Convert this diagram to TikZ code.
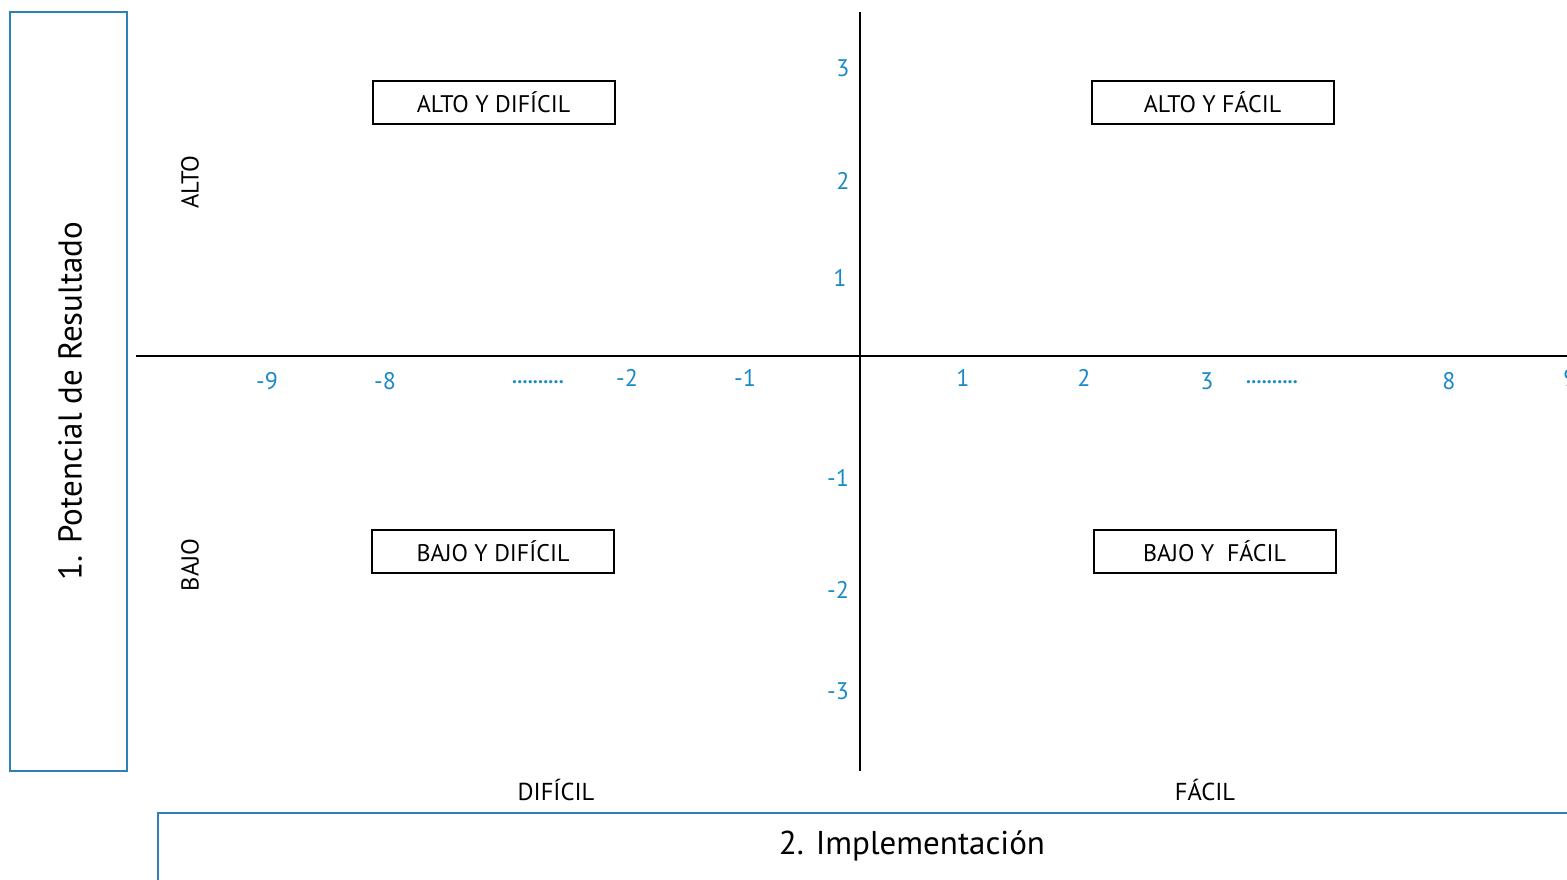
\documentclass[tikz,border=0pt]{standalone}
\usepackage{fontspec}
\setmainfont{PT Sans}
\definecolor{tickblue}{HTML}{1A8AC6}
\definecolor{frameblue}{HTML}{2F7FB8}
\begin{document}
\begin{tikzpicture}[x=1pt,y=-1pt,
  quad/.style={draw=black,line width=2pt,minimum width=242pt,minimum height=43pt,inner sep=0pt,font=\fontsize{24}{26}\selectfont},
  tick/.style={text=tickblue,font=\fontsize{24}{26}\selectfont,inner sep=0pt},
  dots/.style={text=tickblue,font=\bfseries\fontsize{20}{24}\selectfont,inner sep=0pt},
  side/.style={font=\fontsize{24.5}{26}\selectfont,inner sep=0pt},
  title/.style={inner sep=0pt,font=\fontsize{33}{36}\selectfont},
  axis/.style={line width=2pt,black},
  frame/.style={draw=frameblue,line width=1.2pt}]
\useasboundingbox (0,0) rectangle (1567,879);
% side frames
\draw[frame] (10,12) rectangle (127,771);
\draw[frame] (1570,813) -- (158,813) -- (158,882);
% axes
\coordinate (xl) at (136,356);
\coordinate (xr) at (1570,356);
\coordinate (yt) at (860,12);
\coordinate (yb) at (860,771);
\draw[axis] (xl) -- (xr);
\draw[axis] (yt) -- (yb);
% quadrant boxes
\node[quad] (ad) at (493.5,102) {ALTO Y DIFÍCIL};
\node[quad] (af) at (1212.5,102) {ALTO Y FÁCIL};
\node[quad] (bd) at (493,551) {BAJO Y DIFÍCIL};
\node[quad] (bf) at (1214.5,551) {BAJO Y \ FÁCIL};
% vertical tick labels
\node[tick] (y3) at (843,68) {3};
\node[tick] (y2) at (843,181) {2};
\node[tick] (y1) at (840,278) {1};
\node[tick] (ym1) at (838,478) {-1};
\node[tick] (ym2) at (838,590) {-2};
\node[tick] (ym3) at (838,691) {-3};
% horizontal tick labels
\node[tick] (xm9) at (267,381) {-9};
\node[tick] (xm8) at (385,381) {-8};
\node[dots] (xdl) at (538,382) {..........};
\node[tick] (xm2) at (627,378) {-2};
\node[tick] (xm1) at (745,378) {-1};
\node[tick] (x1) at (963,378) {1};
\node[tick] (x2) at (1084,378) {2};
\node[tick] (x3) at (1207,381) {3};
\node[dots] (xdr) at (1272,382) {..........};
\node[tick] (x8) at (1449,381) {8};
\node[tick] (x9) at (1570,378) {9};
% level labels
\node[side,rotate=90] (alto) at (190,182) {ALTO};
\node[side,rotate=90] (bajo) at (190,565) {BAJO};
\node[side] (dif) at (556,790) {DIFÍCIL};
\node[side] (fac) at (1205,790) {FÁCIL};
% axis titles
\node[title,rotate=90] (pot) at (70,401) {1. Potencial de Resultado};
\node[title] (imp) at (912,846) {2. Implementación};
\end{tikzpicture}
\end{document}
